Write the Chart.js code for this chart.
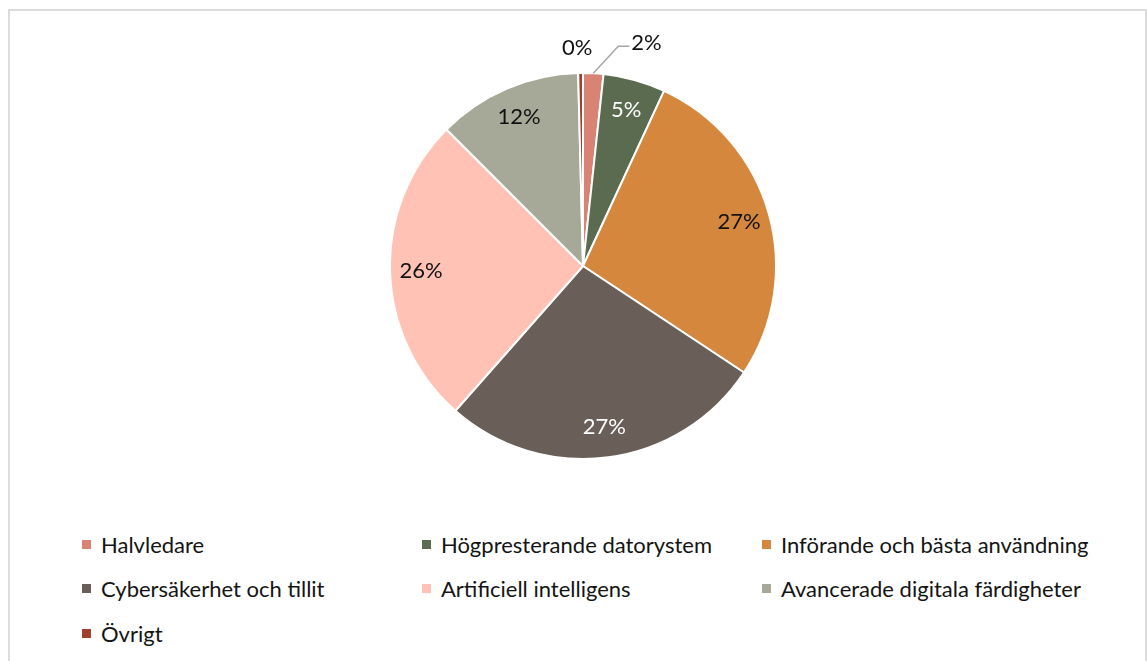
<!DOCTYPE html>
<html lang="sv">
<head>
<meta charset="utf-8">
<title>Fördelning</title>
<script src="https://cdn.jsdelivr.net/npm/chart.js@4"></script>
<style>
  html, body { margin: 0; padding: 0; background: #fff; }
  body { width: 1148px; height: 661px; position: relative; overflow: hidden; font-family: Lato, sans-serif; }
  .frame {
    position: absolute; left: 8px; top: 9px; width: 1139px; height: 700px;
    border: 2px solid #dcdcdc; box-sizing: border-box;
  }
  #pie { position: absolute; left: 343px; top: 26px; }
  .legend {
    position: absolute; left: 82px; top: 522px;
    display: grid; grid-template-columns: 340px 340px 340px; grid-auto-rows: 44.5px;
  }
  .legend-item { display: flex; align-items: center; font-size: 22px; color: #141414; white-space: nowrap; }
  .legend-box { width: 9px; height: 9px; margin-right: 10px; flex: none; }
</style>
</head>
<body>
<div class="frame"></div>
<canvas id="pie" width="480" height="480"></canvas>
<div class="legend" id="legend"></div>
<script>
// Kategorier och andelar (procent)
const kategorier = [
  'Halvledare',
  'Högpresterande datorystem',
  'Införande och bästa användning',
  'Cybersäkerhet och tillit',
  'Artificiell intelligens',
  'Avancerade digitala färdigheter',
  'Övrigt'
];
const andelar = [1.7, 5.2, 27.4, 27.2, 26.0, 12.1, 0.4];
const farger = ['#D88374', '#5B6B50', '#D5873E', '#6A5F58', '#FFC2B5', '#A6A998', '#A2402E'];
const etikettFarger = ['#111', '#fff', '#111', '#fff', '#111', '#111', '#111'];

// Egen plugin for procentetiketter (inne i sektorn, eller utanför för små sektorer)
const procentEtiketter = {
  id: 'procentEtiketter',
  afterDatasetsDraw(chart) {
    const ctx = chart.ctx;
    const meta = chart.getDatasetMeta(0);
    ctx.save();
    ctx.font = '22px Lato, sans-serif';
    ctx.textBaseline = 'middle';
    meta.data.forEach((arc, i) => {
      const p = arc.getProps(['x', 'y', 'startAngle', 'endAngle', 'outerRadius'], true);
      const mid = (p.startAngle + p.endAngle) / 2;
      const txt = Math.round(andelar[i]) + '%';
      const v = andelar[i];
      if (v >= 3) {
        const d = p.outerRadius * 0.84;
        ctx.fillStyle = etikettFarger[i];
        ctx.textAlign = 'center';
        ctx.fillText(txt, p.x + Math.cos(mid) * d, p.y + Math.sin(mid) * d);
      } else if (v < 1) {
        const d = p.outerRadius + 25;
        ctx.fillStyle = '#111';
        ctx.textAlign = 'center';
        ctx.fillText(txt, p.x + Math.cos(mid) * d - 3, p.y + Math.sin(mid) * d);
      } else {
        // ledarlinje
        const sx = p.x + Math.cos(mid) * p.outerRadius;
        const sy = p.y + Math.sin(mid) * p.outerRadius;
        const ex = sx + 25, ey = sy - 27;
        ctx.strokeStyle = '#a6a6a6';
        ctx.lineWidth = 1.5;
        ctx.beginPath();
        ctx.moveTo(sx, sy);
        ctx.lineTo(ex, ey);
        ctx.lineTo(ex + 11, ey);
        ctx.stroke();
        ctx.fillStyle = '#111';
        ctx.textAlign = 'left';
        ctx.fillText(txt, ex + 13, ey - 3);
      }
    });
    ctx.restore();
  }
};

const chart = new Chart(document.getElementById('pie'), {
  type: 'pie',
  data: {
    labels: kategorier,
    datasets: [{
      data: andelar,
      backgroundColor: farger,
      borderColor: '#fff',
      borderWidth: 2
    }]
  },
  options: {
    responsive: false,
    animation: false,
    events: [],
    layout: { padding: 46 },
    plugins: {
      legend: { display: false },
      tooltip: { enabled: false }
    }
  },
  plugins: [procentEtiketter]
});

// Förklaring i tre kolumner
const legend = document.getElementById('legend');
chart.data.labels.forEach((lbl, i) => {
  const item = document.createElement('div');
  item.className = 'legend-item';
  const box = document.createElement('span');
  box.className = 'legend-box';
  box.style.background = chart.data.datasets[0].backgroundColor[i];
  const t = document.createElement('span');
  t.textContent = lbl;
  item.appendChild(box);
  item.appendChild(t);
  legend.appendChild(item);
});
</script>
</body>
</html>
